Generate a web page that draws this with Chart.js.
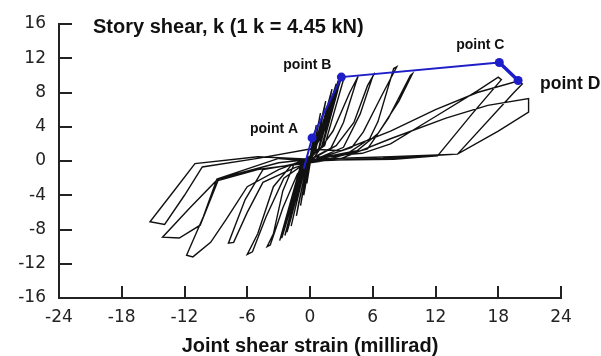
<!DOCTYPE html>
<html>
<head>
<meta charset="utf-8">
<script src="https://cdn.jsdelivr.net/npm/chart.js@4/dist/chart.umd.min.js"></script>
<style>
  html, body { margin: 0; padding: 0; background: #ffffff; }
  #wrap { width: 601px; height: 356px; position: relative; }
</style>
</head>
<body>
<div id="wrap"><canvas id="c"></canvas></div>
<script>
// ---- Data ----
const chartTitle = 'Story shear, k (1 k = 4.45 kN)';
const xAxisTitle = 'Joint shear strain (millirad)';
const xTickValues = [-24, -18, -12, -6, 0, 6, 12, 18, 24];
const xTickLabels = ['-24', '-18', '-12', '-6', '0', '6', '12', '18', '24'];
const yTickValues = [-16, -12, -8, -4, 0, 4, 8, 12, 16];
const yTickLabels = ['-16', '-12', '-8', '-4', '0', '4', '8', '12', '16'];

// hysteresis trace (joint shear strain, millirad)
const hysteresisStrain = [
  0, 0.15, 0.05, -0.15, -0.05,
  0.3, 0.1, -0.3, -0.1,
  0.6, 0.45, 0.15, -0.1, -0.6, -0.45, -0.15,
  0.2, 1.0, 0.8, 0.3, -0.2, -0.9, -0.75, -0.25,
  0.4, 1.5, 1.25, 0.5, -0.3, -1.3, -1.1, -0.35,
  0.7, 2.1, 1.8, 0.8, -0.4, -1.8, -1.5, -0.5,
  1.0, 2.7, 2.4, 1.1, -0.6, -2.4, -2.0, -0.7,
  0.9, 2.5, 2.2, 0.9, -0.5, -2.2, -1.8, -0.6,
  1.2, 2.9, 2.6, 1.2, -0.7, -2.7, -2.3, -0.8,
  1.4, 3.0, 3.2, 2.8, 1.4, -0.8, -2.9, -2.6, -0.9,
  0.5, 2.2, 3.8, 4.6, 4.4, 3.2, 2.0, 0,
  -1.5, -2.6, -3.5, -4.1, -3.8, -2.6, -1.2,
  0, 2.5, 4.2, 5.5, 6.2, 6.0, 4.8, 3.2, 0.5,
  -1.8, -3.5, -5.0, -6.0, -5.5, -4.2, -2.5, -0.5,
  1.0, 4.0, 5.1, 6.8, 8.3, 8.0, 6.5, 5.7, 3.5, 0,
  -2.5, -4.5, -6.2, -7.8, -7.3, -6.0, -4.5, -1.5,
  1.5, 4.5, 6.5, 8.5, 9.8, 9.6, 7.5, 5.5, 2.0, 0,
  -3, -8.9, -10.2, -11.8, -11.2, -9.5, -8.0, -6.0, -3.0,
  0, 5.0, 7.7, 12.0, 16.0, 18.0, 18.3, 15.5, 12.2, 8.0, 2.0,
  -5, -11, -13.2, -15.3, -13.9, -12.0, -10.3, -5, 0,
  3, 7.7, 12, 16, 19.8, 20.3, 19.5, 14.1, 7.7, 0,
  -3, -8.8, -11.5, -14.1, -12.5, -10.5, -8.8, -5, 0,
  3, 7.7, 13, 17, 20.9, 20.9, 18, 14.1, 7.0, 0
];
// hysteresis trace (story shear, k)
const hysteresisShear = [
  0, 1.5, 0.2, -1.5, -0.2,
  2.8, 0.4, -2.6, -0.3,
  4.2, 3.2, 0.5, -0.2, -4.0, -3.0, -0.4,
  0.6, 5.6, 4.3, 0.8, -0.3, -5.2, -4.0, -0.6,
  1.2, 7.0, 5.4, 1.0, -0.3, -6.4, -5.0, -0.7,
  2.0, 8.4, 6.6, 1.3, -0.2, -7.6, -6.0, -0.9,
  2.8, 9.4, 7.6, 1.6, -0.2, -8.7, -7.0, -1.1,
  2.6, 9.0, 7.4, 1.5, -0.2, -8.3, -6.6, -1.0,
  3.2, 9.6, 8.0, 1.7, -0.2, -9.0, -7.4, -1.2,
  3.6, 9.7, 9.5, 7.8, 1.8, -0.1, -9.3, -8.2, -1.3,
  0.6, 3.5, 8.0, 9.9, 9.2, 4.5, 1.5, 0.2,
  -0.3, -3.5, -8.5, -10.0, -9.8, -5.5, -1.5,
  0.1, 1.8, 4.5, 8.8, 10.3, 9.9, 5.5, 1.6, 0.2,
  -0.5, -3.0, -8.5, -10.9, -10.6, -6.5, -2.0, -0.3,
  0.4, 1.6, 3.4, 7.5, 11.0, 10.8, 4.6, 2.6, 0.8, 0.1,
  -0.6, -1.0, -4.5, -9.6, -9.5, -6.0, -2.5, -0.8,
  0.5, 1.2, 3.2, 7.0, 10.2, 10.0, 5.0, 1.4, 0.3, 0.0,
  0.3, -2.1, -6.5, -11.0, -11.2, -9.5, -6.8, -3.0, -1.0,
  0.4, 0.9, 2.0, 5.2, 8.2, 9.8, 9.5, 5.5, 0.6, 0.2, 0.1,
  0.5, -0.3, -3.8, -7.1, -7.4, -4.0, -0.7, 0.3, 1.4,
  1.2, 3.5, 6.0, 8.0, 9.3, 9.0, 8.0, 0.8, 0.5, 0.2,
  -0.2, -2.1, -5.5, -8.9, -9.0, -7.5, -2.3, -1.0, -0.2,
  0.3, 2.6, 5.0, 6.5, 7.3, 5.7, 3.5, 0.8, 0.3, 0.0
];

// backbone envelope
const envelopeStrain = [-0.6, 0.2, 3.0, 18.1, 19.9];
const envelopeShear = [-0.9, 2.7, 9.8, 11.5, 9.4];
const envelopeLabels = ['', 'point A', 'point B', 'point C', 'point D'];

// ---- Chart ----
const loopData = hysteresisStrain.map((x, i) => ({ x: x, y: hysteresisShear[i] }));
const envData = envelopeStrain.map((x, i) => ({ x: x, y: envelopeShear[i] }));

const BLUE = '#1e1ec8';

const textPlugin = {
  id: 'texts',
  afterDatasetsDraw(chart) {
    const ctx = chart.ctx;
    ctx.save();
    ctx.fillStyle = '#111';
    ctx.textBaseline = 'middle';
    ctx.font = 'bold 20px "Liberation Sans", Arial, sans-serif';
    ctx.textAlign = 'left';
    ctx.fillText(chartTitle, 93, 27);

    const meta = chart.getDatasetMeta(1);
    const offs = [null, [-38, -9, 'center', 14], [-34, -12, 'center', 14], [-19, -17, 'center', 14], [22, 4, 'left', 17.5]];
    envelopeLabels.forEach((lab, i) => {
      if (!lab) return;
      const el = meta.data[i];
      const o = offs[i];
      ctx.font = 'bold ' + o[3] + 'px "Liberation Sans", Arial, sans-serif';
      ctx.textAlign = o[2];
      ctx.fillText(lab, el.x + o[0], el.y + o[1]);
    });
    ctx.restore();
  }
};

new Chart(document.getElementById('c'), {
  type: 'scatter',
  data: {
    datasets: [
      {
        data: loopData,
        showLine: true,
        borderColor: '#111111',
        borderWidth: 1.4,
        pointRadius: 0,
        tension: 0,
        order: 2
      },
      {
        data: envData,
        showLine: true,
        borderColor: BLUE,
        backgroundColor: BLUE,
        borderWidth: 2,
        pointRadius: [0, 4.5, 4.5, 4.5, 4.5],
        pointBorderWidth: 0,
        segment: { borderWidth: c => (c.p0DataIndex === 3 ? 3.5 : 2) },
        tension: 0,
        order: 1
      }
    ]
  },
  options: {
    responsive: true,
    maintainAspectRatio: false,
    animation: false,
    layout: { padding: { top: 24, right: 40, left: 0, bottom: 0 } },
    plugins: { legend: { display: false }, tooltip: { enabled: false }, title: { display: false } },
    scales: {
      x: {
        type: 'linear',
        min: -24, max: 24,
        afterBuildTicks: s => { s.ticks = xTickValues.map(v => ({ value: v })); },
        afterFit: s => { s.height = 58; s.paddingLeft = 0; s.paddingRight = 0; },
        ticks: {
          autoSkip: false,
          maxRotation: 0,
          padding: 21,
          color: '#222',
          font: { family: '"DejaVu Sans", sans-serif', size: 17 },
          callback: v => xTickLabels[xTickValues.indexOf(v)]
        },
        grid: { drawOnChartArea: false, drawTicks: true, tickLength: -12, color: '#222', lineWidth: 2 },
        border: { display: true, color: '#222', width: 2 },
        title: {
          display: true,
          text: xAxisTitle,
          color: '#111',
          padding: 0,
          font: { family: '"Liberation Sans", Arial, sans-serif', size: 20, weight: 'bold', lineHeight: 1 }
        }
      },
      y: {
        type: 'linear',
        min: -16, max: 16,
        afterBuildTicks: s => { s.ticks = yTickValues.map(v => ({ value: v })); },
        afterFit: s => { s.width = 59; s.paddingTop = 0; s.paddingBottom = 0; },
        ticks: {
          autoSkip: false,
          padding: 26,
          color: '#222',
          font: { family: '"DejaVu Sans", sans-serif', size: 17 },
          callback: v => yTickLabels[yTickValues.indexOf(v)]
        },
        grid: { drawOnChartArea: false, drawTicks: true, tickLength: -13, color: '#222', lineWidth: 2 },
        border: { display: true, color: '#222', width: 2 }
      }
    }
  },
  plugins: [textPlugin]
});
</script>
</body>
</html>
